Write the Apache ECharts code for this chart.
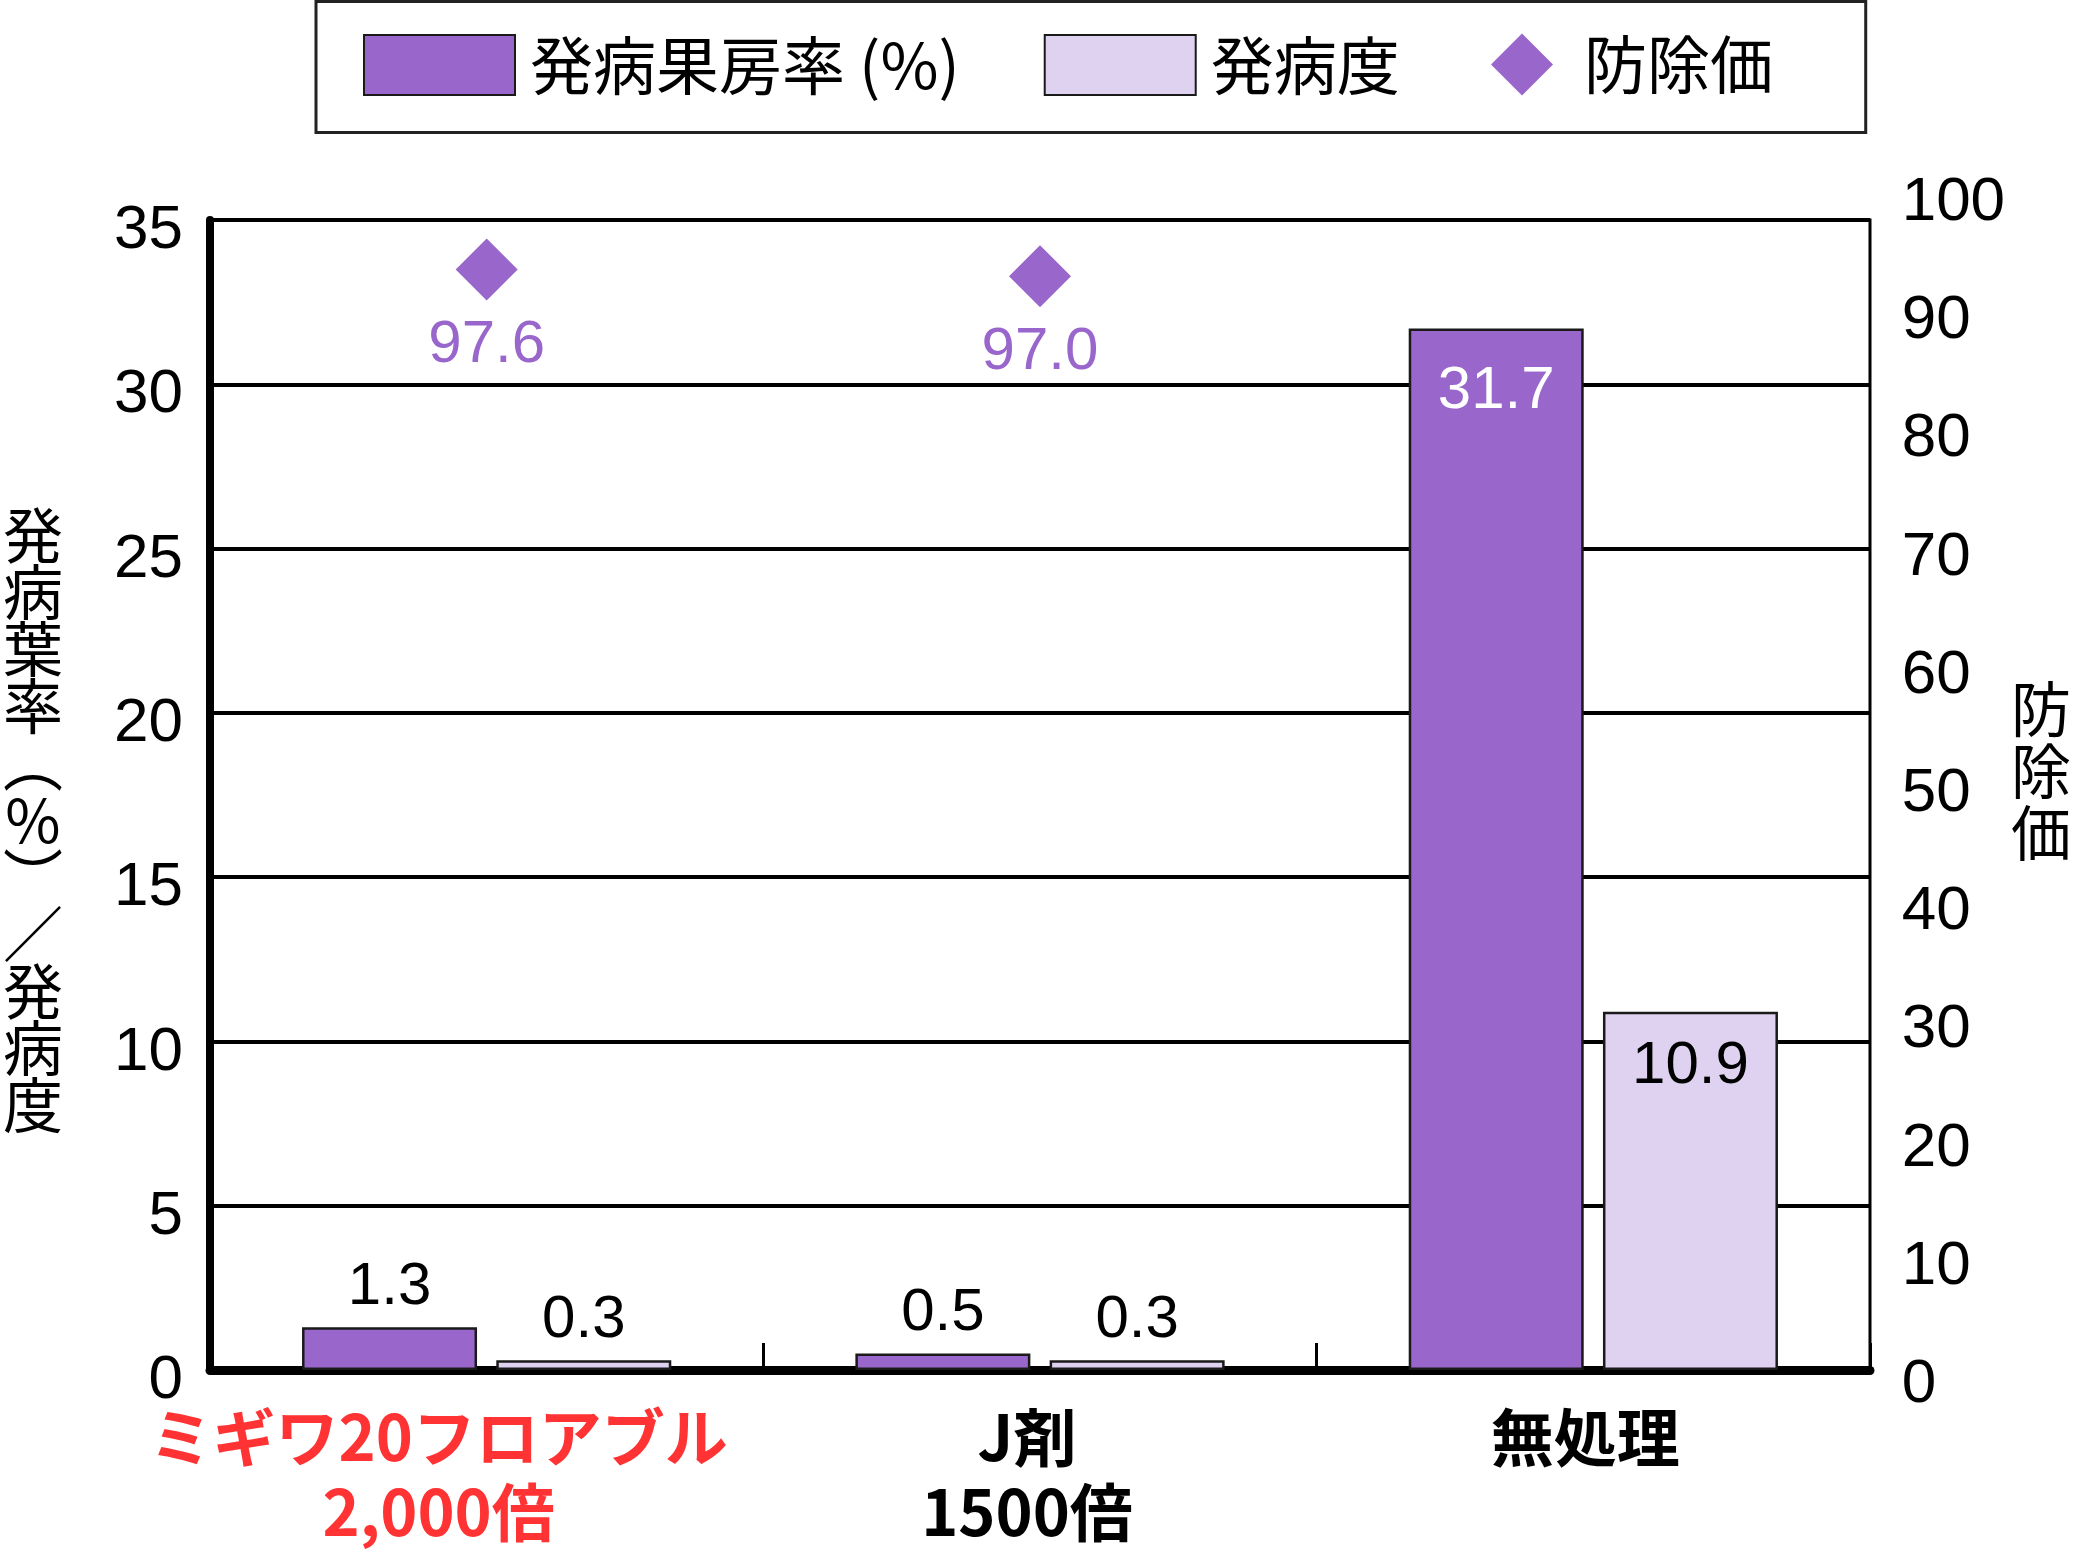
<!DOCTYPE html>
<html>
<head>
<meta charset="utf-8">
<script src="https://cdn.jsdelivr.net/npm/echarts@6/dist/echarts.min.js"></script>
<style>
  html, body { margin: 0; padding: 0; background: #fff; }
  #main { width: 2074px; height: 1568px; }
</style>
</head>
<body>
<div id="main"></div>
<script>
// データ
var categories = ['ミギワ20フロアブル\n2,000倍', 'J剤\n1500倍', '無処理'];
var fruitRate = [1.3, 0.5, 31.7];      // 発病果房率 (%)
var severity = [0.3, 0.3, 10.9];       // 発病度
var controlValue = [97.6, 97.0, null]; // 防除価
var leftAxis = { min: 0, max: 35, interval: 5 };
var rightAxis = { min: 0, max: 100, interval: 10 };
var leftName = '発病葉率︵%︶／発病度';
var rightName = '防除価';

var PURPLE = '#9966CC';
var LIGHT = '#DFD1F0';
var NUM_FONT = '"Liberation Sans", Arial, sans-serif';
var JP_FONT = '"Noto Sans CJK JP", sans-serif';

function barLabel(v, insideColor, insideDist) {
    // 大きい棒は内側、小さい棒は上に値を表示
    if (v > 5) {
        return { show: true, position: 'insideTop', distance: insideDist, color: insideColor };
    }
    return { show: true, position: 'top', distance: 10, color: '#000' };
}

// 縦書きの軸名（1文字ずつ改行）
function vertical(s) {
    return s.split('').map(function (ch) { return '{a|' + ch + '}'; }).join('\n');
}

var myChart = echarts.init(document.getElementById('main'));
myChart.setOption({
    animation: false,
    textStyle: { fontFamily: JP_FONT },
    legend: [
        {
            left: 316,
            top: 1.5,
            padding: [32, 466, 36, 47],
            itemWidth: 151,
            itemHeight: 60,
            itemGap: 84,
            icon: 'rect',
            borderColor: '#222',
            borderWidth: 3,
            textStyle: { fontSize: 63, color: '#000', fontFamily: JP_FONT, padding: [0, 0, 0, 10] },
            data: ['発病果房率 (%)', '発病度']
        },
        {
            left: 1491,
            top: 33,
            padding: 0,
            itemWidth: 62,
            itemHeight: 62,
            textStyle: { fontSize: 63, color: '#000', fontFamily: JP_FONT, padding: [0, 0, 0, 26] },
            data: [{ name: '防除価', icon: 'diamond' }]
        }
    ],
    grid: [
        { left: 209, right: 204, top: 220, bottom: 198, show: true, borderColor: '#000', borderWidth: 3 },
        { left: 209, right: 204, top: 200, bottom: 186, show: false }
    ],
    xAxis: [
        {
            type: 'category',
            gridIndex: 0,
            data: categories.map(function (c, i) {
                if (i === 0) return { value: c, textStyle: { color: '#FF3333', padding: [0, 96, 0, 0] } };
                if (i === 1) return { value: c, textStyle: { padding: [0, 26, 0, 0] } };
                return { value: c, textStyle: { padding: [0, 16, 0, 0] } };
            }),
            axisLine: { show: true, lineStyle: { color: '#000', width: 9 } },
            axisTick: { show: true, inside: true, length: 27, interval: 0, alignWithLabel: false, lineStyle: { color: '#000', width: 3 } },
            axisLabel: {
                interval: 0,
                margin: 30,
                fontSize: 63,
                fontWeight: 'bold',
                lineHeight: 75,
                color: '#000',
                fontFamily: JP_FONT
            }
        },
        { type: 'category', gridIndex: 1, data: categories, show: false }
    ],
    yAxis: [
        {
            type: 'value',
            gridIndex: 0,
            position: 'left',
            min: leftAxis.min,
            max: leftAxis.max,
            interval: leftAxis.interval,
            name: '{b| }\n' + vertical(leftName),
            nameLocation: 'middle',
            nameRotate: 0,
            nameGap: 177,
            nameTextStyle: {
                align: 'center',
                rich: {
                    a: { fontSize: 60, lineHeight: 57, color: '#000', fontFamily: JP_FONT },
                    b: { fontSize: 10, lineHeight: 50 }
                }
            },
            axisLine: { show: true, lineStyle: { color: '#000', width: 8 } },
            axisTick: { show: false },
            splitLine: { lineStyle: { color: '#000', width: 4 } },
            axisLabel: { fontSize: 62, color: '#000', margin: 27, verticalAlign: 'top', lineHeight: 22, fontFamily: NUM_FONT }
        },
        {
            type: 'value',
            gridIndex: 1,
            position: 'right',
            min: rightAxis.min,
            max: rightAxis.max,
            interval: rightAxis.interval,
            name: vertical(rightName) + '\n{b| }',
            nameLocation: 'middle',
            nameRotate: 0,
            nameGap: 172,
            nameTextStyle: {
                align: 'center',
                rich: {
                    a: { fontSize: 60, lineHeight: 62, color: '#000', fontFamily: JP_FONT },
                    b: { fontSize: 10, lineHeight: 40 }
                }
            },
            axisLine: { show: false },
            axisTick: { show: false },
            splitLine: { show: false },
            axisLabel: { fontSize: 62, color: '#000', margin: 37, verticalAlign: 'top', lineHeight: 6, fontFamily: NUM_FONT }
        },
        // 防除価のマーカー用（非表示）
        { type: 'value', gridIndex: 0, min: 0, max: 102, show: false, splitLine: { show: false } }
    ],
    series: [
        {
            name: '発病果房率 (%)',
            type: 'bar',
            xAxisIndex: 0,
            yAxisIndex: 0,
            barWidth: 175,
            barGap: '11%',
            itemStyle: { color: PURPLE, borderColor: '#1a1a1a', borderWidth: 2.5 },
            label: { fontSize: 60, fontFamily: NUM_FONT },
            data: fruitRate.map(function (v) {
                return { value: v, label: barLabel(v, '#fff', 33) };
            })
        },
        {
            name: '発病度',
            type: 'bar',
            xAxisIndex: 0,
            yAxisIndex: 0,
            barWidth: 175,
            barGap: '11%',
            itemStyle: { color: LIGHT, borderColor: '#1a1a1a', borderWidth: 2.5 },
            label: { fontSize: 60, fontFamily: NUM_FONT },
            data: severity.map(function (v) {
                return { value: v, label: barLabel(v, '#000', 25) };
            })
        },
        {
            name: '防除価',
            type: 'scatter',
            xAxisIndex: 0,
            yAxisIndex: 2,
            symbol: 'diamond',
            symbolSize: 62,
            itemStyle: { color: PURPLE, opacity: 1 },
            label: {
                show: true,
                position: 'bottom',
                distance: 15,
                color: PURPLE,
                fontSize: 60,
                fontFamily: NUM_FONT,
                formatter: function (p) { return p.value.toFixed(1); }
            },
            data: controlValue
        }
    ]
});
</script>
</body>
</html>
